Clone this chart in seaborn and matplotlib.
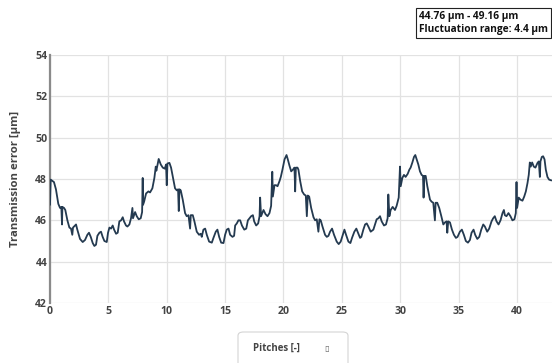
import matplotlib
matplotlib.use("Agg")
import matplotlib.pyplot as plt
from matplotlib.patches import FancyBboxPatch
import pandas as pd
import seaborn as sns

# Measured transmission error along the pitches (µm)
pitch = [
    0.0, 0.06, 0.23, 0.34, 0.51, 0.71, 0.86, 0.97, 1.03, 1.06, 1.2, 1.31, 1.49, 1.66, 1.8, 1.91, 1.97,
    2.06, 2.23, 2.34, 2.57, 2.8, 3.0, 3.2, 3.34, 3.49, 3.66, 3.8, 3.94, 4.06, 4.23, 4.37, 4.51, 4.66,
    4.86, 4.97, 5.09, 5.23, 5.37, 5.49, 5.66, 5.8, 5.94, 6.09, 6.23, 6.34, 6.51, 6.63, 6.8, 6.94, 7.06,
    7.11, 7.29, 7.43, 7.6, 7.77, 7.89, 7.94, 7.97, 8.06, 8.23, 8.43, 8.57, 8.77, 8.94, 9.06, 9.11, 9.2,
    9.31, 9.49, 9.66, 9.83, 9.94, 10.0, 10.06, 10.23, 10.37, 10.57, 10.71, 10.86, 10.97, 11.03, 11.09,
    11.2, 11.37, 11.57, 11.71, 11.86, 12.0, 12.06, 12.23, 12.37, 12.57, 12.77, 12.91, 13.0, 13.14,
    13.29, 13.43, 13.63, 13.86, 14.0, 14.2, 14.34, 14.49, 14.66, 14.86, 15.0, 15.14, 15.29, 15.43,
    15.63, 15.77, 15.86, 16.0, 16.14, 16.29, 16.44, 16.64, 16.81, 16.95, 17.09, 17.23, 17.38, 17.49,
    17.66, 17.83, 17.95, 18.0, 18.08, 18.29, 18.46, 18.63, 18.8, 18.94, 19.04, 19.09, 19.23, 19.37,
    19.49, 19.66, 19.77, 19.91, 20.09, 20.26, 20.37, 20.51, 20.66, 20.8, 20.94, 21.0, 21.06, 21.2,
    21.28, 21.43, 21.6, 21.77, 21.91, 22.0, 22.08, 22.2, 22.37, 22.57, 22.71, 22.85, 22.99, 23.08,
    23.19, 23.34, 23.56, 23.71, 23.85, 23.99, 24.16, 24.33, 24.56, 24.73, 24.9, 25.08, 25.22, 25.36,
    25.56, 25.73, 25.87, 26.07, 26.24, 26.42, 26.56, 26.67, 26.84, 26.99, 27.13, 27.27, 27.47, 27.7,
    27.87, 27.98, 28.13, 28.27, 28.41, 28.61, 28.78, 28.92, 28.98, 29.07, 29.18, 29.35, 29.55, 29.69,
    29.87, 29.98, 30.04, 30.18, 30.32, 30.46, 30.64, 30.78, 30.89, 31.04, 31.18, 31.29, 31.41, 31.55,
    31.69, 31.83, 31.95, 32.0, 32.06, 32.18, 32.32, 32.55, 32.69, 32.83, 32.97, 33.03, 33.17, 33.34,
    33.52, 33.69, 33.83, 33.97, 34.03, 34.11, 34.26, 34.43, 34.6, 34.77, 34.91, 35.11, 35.28, 35.45,
    35.62, 35.8, 35.97, 36.11, 36.28, 36.42, 36.6, 36.77, 36.94, 37.11, 37.25, 37.45, 37.62, 37.82,
    37.96, 38.1, 38.25, 38.42, 38.59, 38.76, 38.88, 38.96, 39.1, 39.27, 39.44, 39.61, 39.78, 39.9,
    39.96, 40.01, 40.15, 40.3, 40.47, 40.62, 40.76, 40.9, 41.01, 41.1, 41.18, 41.3, 41.44, 41.58,
    41.76, 41.87, 41.96, 42.01, 42.13, 42.24, 42.36, 42.47, 42.61, 42.75, 42.95,
]
error = [
    46.75, 47.97, 47.9, 47.85, 47.5, 46.8, 46.6, 46.65, 45.8, 46.65, 46.6, 46.5, 46.0, 45.65, 45.6, 45.3, 45.65,
    45.7, 45.8, 45.55, 45.1, 44.95, 45.05, 45.3, 45.4, 45.2, 44.9, 44.76, 44.82, 45.25, 45.4, 45.45, 45.2, 45.0,
    44.95, 45.4, 45.65, 45.6, 45.75, 45.55, 45.35, 45.4, 45.95, 46.0, 46.15, 45.95, 45.75, 45.7, 45.8, 46.1, 46.6,
    46.1, 46.4, 46.2, 46.05, 46.1, 46.4, 48.05, 46.75, 46.9, 47.3, 47.4, 47.35, 47.55, 48.05, 48.6, 48.4, 48.65,
    48.97, 48.7, 48.55, 48.5, 48.7, 47.7, 48.75, 48.78, 48.55, 47.97, 47.55, 47.45, 47.5, 46.45, 47.5,
    47.45, 47.0, 46.35, 46.2, 46.25, 45.6, 46.25, 46.25, 45.95, 45.45, 45.3, 45.35, 45.2, 45.55,
    45.6, 45.3, 44.97, 44.92, 45.15, 45.45, 45.55, 45.2, 44.92, 44.9, 45.3, 45.55, 45.6, 45.3,
    45.2, 45.25, 45.75, 45.85, 46.0, 46.0, 45.75, 45.55, 45.6, 46.0, 46.1, 46.2, 46.25, 45.95,
    45.75, 45.85, 46.2, 47.1, 46.2, 46.5, 46.3, 46.2, 46.35, 46.7, 48.35, 47.15, 47.7, 47.7,
    47.65, 47.9, 48.1, 48.45, 48.95, 49.16, 48.95, 48.65, 48.37, 48.45, 48.55, 47.4, 48.55, 48.55,
    48.45, 47.9, 47.4, 47.25, 47.2, 46.2, 47.2, 47.15, 46.6, 46.15, 46.0, 46.05, 45.45, 46.05,
    46.0, 45.7, 45.3, 45.2, 45.25, 45.45, 45.6, 45.3, 44.97, 44.85, 44.97, 45.3, 45.55, 45.3,
    44.97, 44.9, 45.15, 45.45, 45.6, 45.35, 45.15, 45.2, 45.55, 45.8, 45.85, 45.7, 45.45, 45.55,
    45.85, 46.05, 46.1, 46.2, 45.95, 45.75, 45.8, 46.1, 47.25, 46.2, 46.5, 46.65, 46.5, 46.7,
    47.1, 48.6, 47.65, 48.05, 48.2, 48.1, 48.25, 48.45, 48.55, 48.8, 49.07, 49.16, 48.95, 48.7,
    48.37, 48.2, 48.15, 47.1, 48.15, 48.15, 47.65, 47.0, 46.9, 46.85, 46.0, 46.85, 46.85, 46.6,
    46.2, 45.8, 45.9, 45.95, 45.4, 45.95, 45.9, 45.55, 45.3, 45.15, 45.2, 45.45, 45.55, 45.3,
    45.0, 44.92, 45.05, 45.4, 45.55, 45.3, 45.1, 45.2, 45.55, 45.8, 45.7, 45.45, 45.6, 45.95,
    46.1, 46.2, 45.95, 45.8, 46.0, 46.35, 46.5, 46.25, 46.2, 46.35, 46.2, 46.0, 46.05, 46.35,
    47.85, 46.6, 47.1, 47.0, 46.95, 47.15, 47.4, 47.8, 48.2, 48.8, 48.6, 48.8, 48.6, 48.55,
    48.78, 48.85, 48.1, 48.85, 49.07, 49.1, 48.95, 48.45, 48.1, 47.97, 47.93,
]

x_ticks = [0, 5, 10, 15, 20, 25, 30, 35, 40]
y_ticks = [42, 44, 46, 48, 50, 52, 54]
range_lines = ["44.76 µm - 49.16 µm", "Fluctuation range: 4.4 µm"]
x_title = "Pitches [-]"
y_title = "Transmission error [µm]"

sns.set_theme(style="white")
plt.rcParams["font.family"] = ["Open Sans", "DejaVu Sans"]

df = pd.DataFrame({"pitch": pitch, "error": error})

fig = plt.figure(figsize=(5.52, 3.63), dpi=100)
ax = fig.add_axes([50 / 552, 1 - 303 / 363, 1 - 50 / 552, (303 - 55) / 363])

sns.lineplot(data=df, x="pitch", y="error", sort=False, estimator=None,
             color="#243a50", linewidth=1.3, ax=ax, zorder=3)

ax.set_xlim(0, 43)
ax.set_ylim(42, 54)
ax.set_xticks(x_ticks)
ax.set_yticks(y_ticks)
ax.grid(True, color="#e2e2e2", linewidth=0.9)
ax.set_axisbelow(True)
for side in ["top", "right", "bottom"]:
    ax.spines[side].set_visible(False)
ax.spines["left"].set_color("#8a8a8a")
ax.spines["left"].set_linewidth(1.6)
ax.tick_params(axis="both", length=0, labelsize=7.6, labelcolor="#444444", pad=2)
for lbl in ax.get_xticklabels() + ax.get_yticklabels():
    lbl.set_fontweight("bold")
ax.set_xlabel("")
ax.set_ylabel(y_title, fontsize=8.2, fontweight="bold", color="#444444", labelpad=10)

# value range annotation, top right
fig.text(419 / 552, 1 - 23 / 363, "\n".join(range_lines), fontsize=7.3, fontweight="bold",
         color="#111111", ha="left", va="center", linespacing=1.15,
         bbox=dict(boxstyle="square,pad=0.3", facecolor="white", edgecolor="#222222", linewidth=0.8))

# x-axis title panel at the bottom
panel = FancyBboxPatch((238 / 552, -0.05), 110 / 552, (363 - 332) / 363 + 0.05,
                       boxstyle="round,pad=0,rounding_size=0.01", transform=fig.transFigure,
                       facecolor="white", edgecolor="#d4d4d4", linewidth=0.8)
fig.patches.append(panel)
fig.text(253 / 552, 1 - 348 / 363, x_title, fontsize=7, fontweight="bold",
         color="#444444", ha="left", va="center")
fig.text(327 / 552, 1 - 348 / 363, "\u25af", fontsize=6, color="#666666",
         ha="center", va="center", family=["DejaVu Sans"])

fig.savefig("out.png", dpi=100)
